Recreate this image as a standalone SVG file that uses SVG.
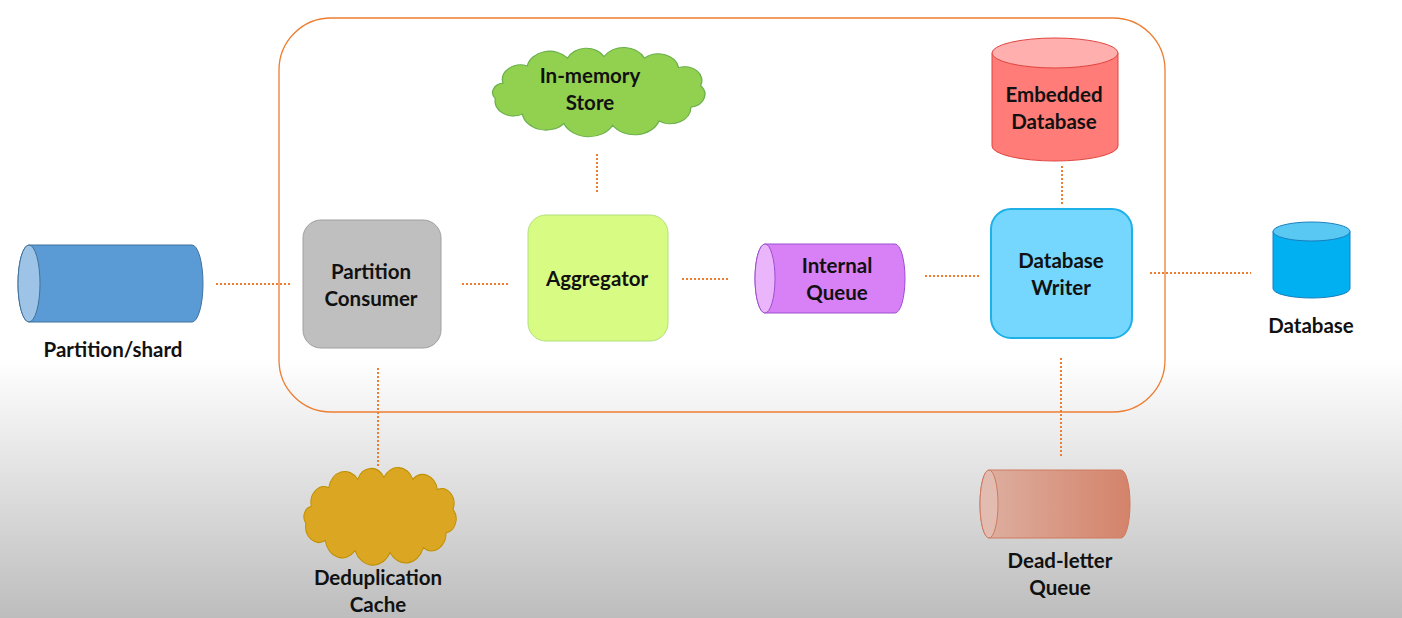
<svg xmlns="http://www.w3.org/2000/svg" width="1402" height="618" viewBox="0 0 1402 618">
  <defs>
    <linearGradient id="bg" x1="0" y1="0" x2="0" y2="1">
      <stop offset="0" stop-color="#ffffff"/>
      <stop offset="0.58" stop-color="#ffffff"/>
      <stop offset="1" stop-color="#bdbdbd"/>
    </linearGradient>
    <linearGradient id="dlq" x1="0" y1="0" x2="1" y2="0">
      <stop offset="0" stop-color="#ddb0a2"/>
      <stop offset="1" stop-color="#d4836a"/>
    </linearGradient>
    <path id="cloud" d="M12,42 A17 17 0 0 1 34.5,22 A21 21 0 0 1 71.8,13 A19 19 0 0 1 105.7,11 A21 21 0 0 1 143,13 A19 19 0 0 1 174.6,24 A16 16 0 0 1 195,45 A15 15 0 0 1 186,70 A19 19 0 0 1 156.5,86 A24 24 0 0 1 113.6,91 A25 25 0 0 1 68.4,89 A22 22 0 0 1 30,78 A17 17 0 0 1 5,60 A11 11 0 0 1 12,42 Z"/>
    <style>
      .lbl { font-family: Lato, "Open Sans", "Liberation Sans", sans-serif; font-weight: bold; font-size: 20.5px; fill: #111111; text-anchor: middle; }
      .dot { stroke: #ed7d31; stroke-width: 2; stroke-dasharray: 2 2; fill: none; }
      .ns { vector-effect: non-scaling-stroke; }
    </style>
  </defs>

  <rect x="0" y="0" width="1402" height="618" fill="url(#bg)"/>

  <g id="container">
    <rect x="279" y="18" width="886" height="394" rx="52" ry="52" fill="none" stroke="#ed7d31" stroke-width="1.3"/>
  </g>

  <g id="connectors">
    <line class="dot" x1="216" y1="284" x2="290" y2="284"/>
    <line class="dot" x1="462" y1="284" x2="508" y2="284"/>
    <line class="dot" x1="597" y1="154" x2="597" y2="193"/>
    <line class="dot" x1="682" y1="279" x2="728" y2="279"/>
    <line class="dot" x1="925" y1="276" x2="980" y2="276"/>
    <line class="dot" x1="1062" y1="166" x2="1062" y2="205"/>
    <line class="dot" x1="1150" y1="273" x2="1251" y2="273"/>
    <line class="dot" x1="378" y1="368" x2="378" y2="468"/>
    <line class="dot" x1="1061" y1="358" x2="1061" y2="456"/>
  </g>

  <g id="partition-shard">
    <path d="M29,245 L192,245 A11 38.5 0 0 1 192,322 L29,322 A11 38.5 0 0 1 29,245 Z" fill="#5b9bd5" stroke="#41719c" stroke-width="1"/>
    <ellipse cx="29" cy="283.5" rx="11" ry="38.5" fill="#9dc3e6" stroke="#41719c" stroke-width="1"/>
    <text class="lbl" x="113" y="357">Partition/shard</text>
  </g>

  <g id="partition-consumer">
    <rect x="303" y="220" width="138" height="128" rx="18" ry="18" fill="#bfbfbf" stroke="#a0a0a0" stroke-width="1"/>
    <text class="lbl" x="371" y="279">Partition</text>
    <text class="lbl" x="371" y="306">Consumer</text>
  </g>

  <g id="in-memory-store">
    <use href="#cloud" transform="translate(490,47) scale(1.08,0.86)" fill="#92d050" stroke="#6ab04c" stroke-width="1.2" class="ns"/>
    <text class="lbl" x="590" y="83">In-memory</text>
    <text class="lbl" x="590" y="110">Store</text>
  </g>

  <g id="aggregator">
    <rect x="528" y="215" width="140" height="126" rx="18" ry="18" fill="#d8fb83" stroke="#b3e07c" stroke-width="1"/>
    <text class="lbl" x="597" y="286">Aggregator</text>
  </g>

  <g id="internal-queue">
    <path d="M765,244 L895,244 A10 34.5 0 0 1 895,313 L765,313 A10 34.5 0 0 1 765,244 Z" fill="#d880f5" stroke="#9b4fd0" stroke-width="1"/>
    <ellipse cx="765" cy="278.5" rx="10" ry="34.5" fill="#eab5fa" stroke="#9b4fd0" stroke-width="1"/>
    <text class="lbl" x="837" y="273">Internal</text>
    <text class="lbl" x="837" y="300">Queue</text>
  </g>

  <g id="embedded-database">
    <path d="M992,53 L992,146 A63 15 0 0 0 1118,146 L1118,53 Z" fill="#ff7c78" stroke="#e0453f" stroke-width="1"/>
    <ellipse cx="1055" cy="53" rx="63" ry="15" fill="#ffb0ae" stroke="#e0453f" stroke-width="1"/>
    <text class="lbl" x="1054" y="102">Embedded</text>
    <text class="lbl" x="1054" y="129">Database</text>
  </g>

  <g id="database-writer">
    <rect x="991" y="209" width="141" height="129" rx="20" ry="20" fill="#75d7fd" stroke="#1eb0e8" stroke-width="2"/>
    <text class="lbl" x="1061" y="268">Database</text>
    <text class="lbl" x="1061" y="295">Writer</text>
  </g>

  <g id="database">
    <path d="M1273,231.5 L1273,288.5 A38.5 9.5 0 0 0 1350,288.5 L1350,231.5 Z" fill="#00b0f0" stroke="#1a7fbf" stroke-width="1"/>
    <ellipse cx="1311.5" cy="231.5" rx="38.5" ry="9.5" fill="#59c8f2" stroke="#1a7fbf" stroke-width="1"/>
    <text class="lbl" x="1311" y="333">Database</text>
  </g>

  <g id="deduplication-cache">
    <use href="#cloud" transform="translate(302,467) scale(0.775,0.94)" fill="#dba621" stroke="#bf8f00" stroke-width="1.2" class="ns"/>
    <text class="lbl" x="378" y="585">Deduplication</text>
    <text class="lbl" x="378" y="612">Cache</text>
  </g>

  <g id="dead-letter-queue">
    <path d="M989,470 L1121,470 A9 34 0 0 1 1121,538 L989,538 A9 34 0 0 1 989,470 Z" fill="url(#dlq)" stroke="#d07a5e" stroke-width="1"/>
    <ellipse cx="989" cy="504" rx="9" ry="34" fill="#e2bcb0" stroke="#d07a5e" stroke-width="1"/>
    <text class="lbl" x="1060" y="568">Dead-letter</text>
    <text class="lbl" x="1060" y="595">Queue</text>
  </g>
</svg>
